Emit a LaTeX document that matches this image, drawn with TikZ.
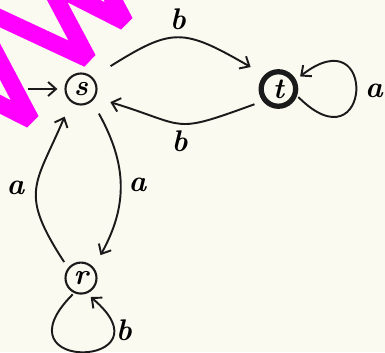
\documentclass[tikz,border=0pt]{standalone}
\usepackage{tikz}
\usetikzlibrary{arrows.meta, positioning}
\usepackage{xcolor}
\definecolor{bgcream}{HTML}{FAFAF0}
\definecolor{inkgray}{HTML}{1A1A1A}
\definecolor{wmpink}{HTML}{FF00FF}

\begin{document}
\begin{tikzpicture}[x=0.02cm, y=-0.02cm,
    state/.style={circle, draw=inkgray, line width=1.2pt, minimum size=0.62cm,
                  inner sep=0pt, font=\fontsize{16.5}{18}\selectfont\bfseries\itshape},
    final/.style={line width=3pt, minimum size=0.69cm},
    lbl/.style={font=\fontsize{17}{19}\selectfont\bfseries\itshape, inner sep=2pt},
    arrow/.style={-{Straight Barb[length=4.5pt, width=8pt]}, line width=1.1pt, draw=inkgray,
                  shorten >=9pt, shorten <=5pt},
    wmark/.style={draw=wmpink, line width=0.34cm, line join=bevel}
  ]
    \fill[bgcream] (0,0) rectangle (385,352);
    \useasboundingbox (0,0) rectangle (385,352);

    % watermark strokes
    \begin{scope}
      \clip (0,0) rectangle (385,352);
      \draw[wmark] (-20.8,8.3) -- (88,59) -- (47.3,-17.5) -- (125,22) -- (97,-31);
      \draw[wmark] (-46.7,80.5) -- (31,120) -- (-30,5);
    \end{scope}

    \node[state] (s) at (81,89) {s};
    \node[state, final, right=3.22cm of s] (t) {t};
    \node[state, below=3.12cm of s] (r) {r};
    \coordinate[left=0.72cm of s] (init);

    \draw[arrow, shorten >=4pt, shorten <=0pt] (init) -- (s);
    \draw[arrow, shorten <=12pt] (s.45) to[out=32, in=150, looseness=1.4]
        node[lbl, above=3pt] {b} (t.135);
    \draw[arrow] (t.218) to[out=200, in=-17, looseness=1.5]
        node[lbl, below=2pt] {b} (s.-31);
    \draw[arrow, shorten <=8pt, shorten >=8pt] (s.-48) to[out=-61, in=61, looseness=1.1]
        node[lbl, right=3pt] {a} (r.40);
    \draw[arrow, shorten <=4pt] (r.142) to[out=123, in=-113, looseness=1.4]
        node[lbl, left=5pt] {a} (s.-128);
    \draw[arrow, shorten <=1pt, shorten >=3pt] (t.-20) .. controls +(-45:2.1cm) and +(38:2.1cm) ..
        node[lbl, right=3pt] {a} (t.28);
    \draw[arrow, shorten <=1pt, shorten >=3pt] (r.-115) .. controls +(-135:2.3cm) and +(-40:2.3cm) ..
        node[lbl, pos=0.8, right=0pt] {b} (r.-70);
  \end{tikzpicture}
\end{document}
